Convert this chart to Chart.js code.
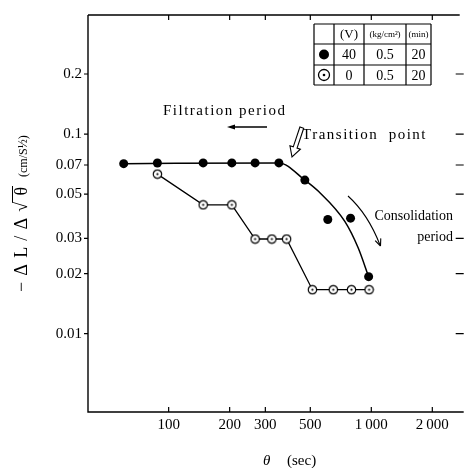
<!DOCTYPE html>
<html>
<head>
<meta charset="utf-8">
<script src="https://cdn.jsdelivr.net/npm/chart.js@4.4.1/dist/chart.umd.min.js"></script>
<style>
  html, body { margin: 0; padding: 0; background: #fff; }
  #wrap { width: 466px; height: 468px; position: relative; }
</style>
</head>
<body>
<div id="wrap"><canvas id="rateChart"></canvas></div>
<script>
// values
const filledTime = [60, 88, 148, 205, 267, 350, 470, 610, 790, 970]
const filledRate = [0.0711, 0.0716, 0.0717, 0.0717, 0.0717, 0.0717, 0.0588, 0.0373, 0.0379, 0.0193]
const openTime = [88, 148, 205, 267, 323, 382, 512, 649, 798, 975]
const openRate = [0.063, 0.0442, 0.0442, 0.0298, 0.0298, 0.0298, 0.0166, 0.0166, 0.0166, 0.0166]
// hand drawn curve through the filled points
const curveTime = [60, 350, 470, 550, 740, 860, 970]
const curveRate = [0.0711, 0.0717, 0.0588, 0.0515, 0.0365, 0.027, 0.0193]

const xTicks = [100, 200, 300, 500, 1000, 2000]
const xTickLabels = ['100', '200', '300', '500', '1\u2009000', '2\u2009000']
const yTicks = [0.2, 0.1, 0.07, 0.05, 0.03, 0.02, 0.01]

const legendHead = ['', '(V)', '(kg/cm\u00b2)', '(min)']
const legendRows = [['filled', '40', '0.5', '20'], ['open', '0', '0.5', '20']]

const serif = '"Liberation Serif", "DejaVu Serif", serif'

// circle with a dot in the middle
function makeDotCircle(){
  const c = document.createElement('canvas')
  c.width = 11; c.height = 11
  const g = c.getContext('2d')
  g.beginPath(); g.arc(5.5, 5.5, 4.2, 0, Math.PI * 2)
  g.fillStyle = '#fff'; g.fill()
  g.lineWidth = 1.2; g.strokeStyle = '#000'; g.stroke()
  g.beginPath(); g.arc(5.5, 5.5, 1.1, 0, Math.PI * 2)
  g.fillStyle = '#000'; g.fill()
  return c
}
const dotCircle = makeDotCircle()

function arrowHead(ctx, x, y, ang, len, half, filled){
  ctx.beginPath()
  ctx.moveTo(x, y)
  ctx.lineTo(x - len * Math.cos(ang) + half * Math.sin(ang), y - len * Math.sin(ang) - half * Math.cos(ang))
  if(filled){
    ctx.lineTo(x - len * Math.cos(ang) - half * Math.sin(ang), y - len * Math.sin(ang) + half * Math.cos(ang))
    ctx.closePath(); ctx.fill()
  } else {
    ctx.moveTo(x, y)
    ctx.lineTo(x - len * Math.cos(ang) - half * Math.sin(ang), y - len * Math.sin(ang) + half * Math.cos(ang))
    ctx.stroke()
  }
}

const decor = {
  id: 'decor',
  afterDraw(chart){
    const ctx = chart.ctx
    const a = chart.chartArea
    const xs = chart.scales.x, ys = chart.scales.y
    ctx.save()
    ctx.strokeStyle = '#000'; ctx.fillStyle = '#000'

    // frame
    ctx.lineWidth = 1.4
    ctx.beginPath()
    ctx.moveTo(a.left, a.top); ctx.lineTo(a.left, a.bottom); ctx.lineTo(a.right + 4, a.bottom)
    ctx.moveTo(a.left, a.top); ctx.lineTo(a.right, a.top)
    ctx.stroke()

    // ticks
    ctx.lineWidth = 1.2
    ctx.beginPath()
    xTicks.forEach(v => {
      const px = xs.getPixelForValue(v)
      ctx.moveTo(px, a.bottom); ctx.lineTo(px, a.bottom - 5)
      ctx.moveTo(px, a.top); ctx.lineTo(px, a.top + 5)
    })
    yTicks.forEach(v => {
      const py = ys.getPixelForValue(v)
      ctx.moveTo(a.left - 4, py); ctx.lineTo(a.left, py)
      ctx.moveTo(a.right - 4, py); ctx.lineTo(a.right + 4, py)
    })
    ctx.stroke()

    // y title
    ctx.save()
    ctx.translate(20, 214)
    ctx.rotate(-Math.PI / 2)
    ctx.font = '18px ' + serif
    ctx.textBaseline = 'alphabetic'
    const glyphs = ['\u2212', '\u0394', 'L', '/', '\u0394', '\u221a', '\u03b8']
    const widths = glyphs.map(g => ctx.measureText(g).width)
    const total = widths.reduce((s, w) => s + w, 0)
    const gap = (105 - total) / (glyphs.length - 1)
    let gx = -78, sqrtX = 0
    glyphs.forEach((g, i) => {
      if(i === 5) sqrtX = gx
      ctx.fillText(g, gx, 7)
      gx += widths[i] + gap
    })
    ctx.lineWidth = 1
    ctx.beginPath()
    ctx.moveTo(sqrtX + widths[5] - 1, -7.5); ctx.lineTo(gx - gap + 1, -7.5)
    ctx.stroke()
    ctx.font = '12px ' + serif
    ctx.fillText('(cm/S\u00bd)', 37, 7)
    ctx.restore()

    // x title
    ctx.textBaseline = 'alphabetic'
    ctx.font = 'italic 15px ' + serif
    ctx.fillText('\u03b8', 263, 465)
    ctx.font = '15px ' + serif
    ctx.fillText('(sec)', 287, 465)

    // annotations
    ctx.font = '15px ' + serif
    ctx.letterSpacing = '1.5px'
    ctx.fillText('Filtration period', 163, 115)
    ctx.fillText('Transition  point', 302, 139)
    ctx.letterSpacing = '0px'
    ctx.font = '14px ' + serif
    ctx.textAlign = 'right'
    ctx.fillText('Consolidation', 453, 220)
    ctx.fillText('period', 453, 241)
    ctx.textAlign = 'left'

    // filtration arrow
    ctx.lineWidth = 1.3
    ctx.beginPath(); ctx.moveTo(267, 127); ctx.lineTo(232, 127); ctx.stroke()
    arrowHead(ctx, 227, 127, Math.PI, 8, 2.5, true)

    // hollow arrow at the transition point
    ctx.save()
    ctx.translate(292, 157)
    ctx.rotate(Math.atan2(-30, 10))
    ctx.lineWidth = 1.1
    ctx.beginPath()
    ctx.moveTo(0, 0); ctx.lineTo(10, -5.5); ctx.lineTo(10, -2); ctx.lineTo(31, -2)
    ctx.lineTo(31, 2); ctx.lineTo(10, 2); ctx.lineTo(10, 5.5); ctx.closePath()
    ctx.fillStyle = '#fff'; ctx.fill(); ctx.stroke()
    ctx.restore()

    // consolidation arrow
    ctx.lineWidth = 1.1
    ctx.beginPath(); ctx.moveTo(348, 196); ctx.quadraticCurveTo(368, 214, 380, 245); ctx.stroke()
    arrowHead(ctx, 380.5, 246, Math.atan2(31, 12), 7, 3, false)

    // legend table
    const colX = [314, 334, 364, 406, 431]
    const rowY = [24, 44, 65, 85]
    ctx.lineWidth = 1.2
    ctx.beginPath()
    colX.forEach(x => { ctx.moveTo(x, rowY[0]); ctx.lineTo(x, rowY[3]) })
    rowY.forEach(y => { ctx.moveTo(colX[0], y); ctx.lineTo(colX[4], y) })
    ctx.stroke()
    ctx.textAlign = 'center'; ctx.textBaseline = 'middle'
    legendHead.forEach((t, i) => {
      if(!t) return
      ctx.font = (i === 1 ? '13px ' : '9px ') + serif
      ctx.fillText(t, (colX[i] + colX[i + 1]) / 2, (rowY[0] + rowY[1]) / 2 + 1)
    })
    legendRows.forEach((row, r) => {
      const cy = (rowY[r + 1] + rowY[r + 2]) / 2
      row.forEach((t, i) => {
        const cx = (colX[i] + colX[i + 1]) / 2
        if(i === 0){
          if(t === 'filled'){
            ctx.beginPath(); ctx.arc(cx, cy, 5, 0, Math.PI * 2); ctx.fill()
          } else {
            ctx.beginPath(); ctx.arc(cx, cy, 5.5, 0, Math.PI * 2); ctx.lineWidth = 1.3; ctx.stroke()
            ctx.beginPath(); ctx.arc(cx, cy, 1.3, 0, Math.PI * 2); ctx.fill()
          }
        } else {
          ctx.font = '14px ' + serif
          ctx.fillText(t, cx, cy + 1)
        }
      })
    })
    ctx.restore()
  }
}

const pairs = (xs, ys) => xs.map((x, i) => ({x: x, y: ys[i]}))

window.onload = ()=>{
  const ctx = document.getElementById('rateChart').getContext('2d')
  new Chart(ctx, {
    type: 'scatter',
    data: {
      datasets: [
        {
          label: 'curve',
          data: pairs(curveTime, curveRate),
          showLine: true,
          cubicInterpolationMode: 'monotone',
          borderColor: '#000',
          borderWidth: 1.5,
          pointRadius: 0
        },
        {
          label: '40 V',
          data: pairs(filledTime, filledRate),
          showLine: false,
          pointRadius: 4.5,
          backgroundColor: '#000',
          borderColor: '#000',
          borderWidth: 0
        },
        {
          label: '0 V',
          data: pairs(openTime, openRate),
          showLine: true,
          tension: 0,
          borderColor: '#000',
          borderWidth: 1.3,
          pointStyle: dotCircle,
          pointRadius: 5
        }
      ]
    },
    options: {
      responsive: true,
      maintainAspectRatio: false,
      animation: false,
      layout: { padding: { top: 12, right: 4, left: 0, bottom: 0 } },
      plugins: { legend: { display: false }, tooltip: { enabled: false } },
      scales: {
        x: {
          type: 'logarithmic',
          min: 40,
          max: 2730,
          afterFit: s => { s.height = 56 },
          afterBuildTicks: s => { s.ticks = xTicks.map(v => ({value: v})) },
          grid: { display: false, drawTicks: false },
          border: { display: false },
          ticks: {
            padding: 4,
            maxRotation: 0,
            autoSkip: false,
            color: '#000',
            font: { family: serif, size: 15 },
            callback: v => xTickLabels[xTicks.indexOf(v)]
          }
        },
        y: {
          type: 'logarithmic',
          min: 0.00405,
          max: 0.395,
          afterFit: s => { s.width = 88 },
          afterBuildTicks: s => { s.ticks = yTicks.map(v => ({value: v})) },
          grid: { display: false, drawTicks: false },
          border: { display: false },
          ticks: {
            padding: 6,
            autoSkip: false,
            color: '#000',
            font: { family: serif, size: 15 },
            callback: v => String(v)
          }
        }
      }
    },
    plugins: [decor]
  })
}
</script>
</body>
</html>
